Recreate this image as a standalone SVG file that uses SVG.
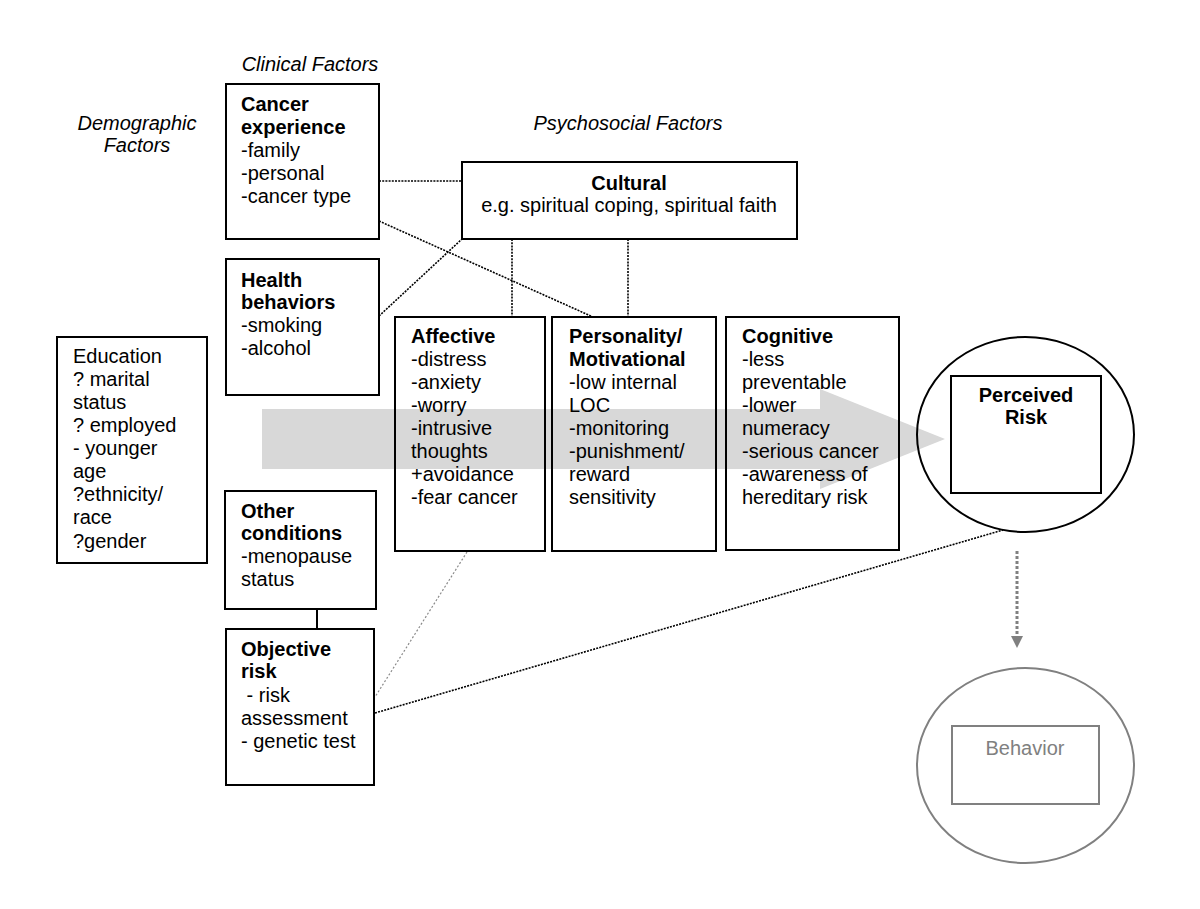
<svg xmlns="http://www.w3.org/2000/svg" width="1200" height="909" viewBox="0 0 1200 909">
<style>
text{font-family:"Liberation Sans",Arial,sans-serif;font-size:20px;fill:#000}
.b{font-weight:bold}
.i{font-style:italic}
.m{text-anchor:middle}
.box{fill:none;stroke:#000;stroke-width:2}
.dot{fill:none;stroke:#000;stroke-width:1.6;stroke-dasharray:2 1.2}
.gdot{fill:none;stroke:#8a8a8a;stroke-width:1.2;stroke-dasharray:2 2}
.gray{fill:none;stroke:#808080;stroke-width:2}
</style>
<rect width="1200" height="909" fill="#fff"/>
<g id="labels">
<text class="i m" x="310" y="71">Clinical Factors</text>
<text class="i m" x="137" y="130">Demographic</text>
<text class="i m" x="137" y="152">Factors</text>
<text class="i m" x="628" y="130">Psychosocial Factors</text>
</g>
<g id="flow-arrow">
<polygon points="262,409 820,409 820,389 945,439 820,489 820,469 262,469" fill="#d8d8d8"/>
</g>
<g id="connectors">
<line class="dot" x1="379" y1="181" x2="462" y2="181"/>
<line class="dot" x1="379" y1="221" x2="593" y2="317"/>
<line class="dot" x1="379" y1="316" x2="462" y2="239"/>
<line class="dot" x1="512" y1="239" x2="512" y2="317"/>
<line class="dot" x1="628" y1="239" x2="628" y2="317"/>
<line x1="317" y1="609" x2="317" y2="629" stroke="#000" stroke-width="2"/>
<line class="gdot" x1="467" y1="552" x2="375" y2="697"/>
<line class="dot" x1="375" y1="713" x2="1003" y2="530"/>
<line x1="1017" y1="551" x2="1017" y2="637" stroke="#808080" stroke-width="3" stroke-dasharray="3 2"/>
<polygon points="1011,636 1023,636 1017,648" fill="#808080"/>
</g>
<g id="cancer-experience">
<rect class="box" x="226" y="84" width="153" height="155"/>
<text class="b" x="241" y="111">Cancer</text>
<text class="b" x="241" y="134">experience</text>
<text x="241" y="157">-family</text>
<text x="241" y="180">-personal</text>
<text x="241" y="203">-cancer type</text>
</g>
<g id="health-behaviors">
<rect class="box" x="226" y="259" width="153" height="136"/>
<text class="b" x="241" y="287">Health</text>
<text class="b" x="241" y="309">behaviors</text>
<text x="241" y="332">-smoking</text>
<text x="241" y="355">-alcohol</text>
</g>
<g id="demographic">
<rect class="box" x="57" y="337" width="150" height="226"/>
<text x="73" y="363">Education</text>
<text x="73" y="386">? marital</text>
<text x="73" y="409">status</text>
<text x="73" y="432">? employed</text>
<text x="73" y="455">- younger</text>
<text x="73" y="478">age</text>
<text x="73" y="501">?ethnicity/</text>
<text x="73" y="524">race</text>
<text x="73" y="548">?gender</text>
</g>
<g id="other-conditions">
<rect class="box" x="225" y="491" width="151" height="118"/>
<text class="b" x="241" y="518">Other</text>
<text class="b" x="241" y="540">conditions</text>
<text x="241" y="563">-menopause</text>
<text x="241" y="586">status</text>
</g>
<g id="objective-risk">
<rect class="box" x="226" y="629" width="148" height="156"/>
<text class="b" x="241" y="656">Objective</text>
<text class="b" x="241" y="678">risk</text>
<text x="241" y="702" xml:space="preserve"> - risk</text>
<text x="241" y="725">assessment</text>
<text x="241" y="748">- genetic test</text>
</g>
<g id="cultural">
<rect class="box" x="462" y="162" width="335" height="77"/>
<text class="b m" x="629" y="190">Cultural</text>
<text class="m" x="629" y="212">e.g. spiritual coping, spiritual faith</text>
</g>
<g id="affective">
<rect class="box" x="395" y="317" width="150" height="234"/>
<text class="b" x="411" y="343">Affective</text>
<text x="411" y="366">-distress</text>
<text x="411" y="389">-anxiety</text>
<text x="411" y="412">-worry</text>
<text x="411" y="435">-intrusive</text>
<text x="411" y="458">thoughts</text>
<text x="411" y="481">+avoidance</text>
<text x="411" y="504">-fear cancer</text>
</g>
<g id="personality">
<rect class="box" x="552" y="317" width="164" height="234"/>
<text class="b" x="569" y="343">Personality/</text>
<text class="b" x="569" y="366">Motivational</text>
<text x="569" y="389">-low internal</text>
<text x="569" y="412">LOC</text>
<text x="569" y="435">-monitoring</text>
<text x="569" y="458">-punishment/</text>
<text x="569" y="481">reward</text>
<text x="569" y="504">sensitivity</text>
</g>
<g id="cognitive">
<rect class="box" x="726" y="317" width="173" height="233"/>
<text class="b" x="742" y="343">Cognitive</text>
<text x="742" y="366">-less</text>
<text x="742" y="389">preventable</text>
<text x="742" y="412">-lower</text>
<text x="742" y="435">numeracy</text>
<text x="742" y="458">-serious cancer</text>
<text x="742" y="481">-awareness of</text>
<text x="742" y="504">hereditary risk</text>
</g>
<g id="perceived-risk">
<ellipse cx="1025.5" cy="434.5" rx="108.5" ry="97.5" fill="none" stroke="#000" stroke-width="2"/>
<rect class="box" x="951" y="376" width="150" height="117"/>
<text class="b m" x="1026" y="402">Perceived</text>
<text class="b m" x="1026" y="424">Risk</text>
</g>
<g id="behavior">
<ellipse class="gray" cx="1025.5" cy="765.5" rx="108.5" ry="97.5"/>
<rect class="gray" x="952" y="726" width="147" height="78"/>
<text class="m" x="1025" y="755" style="fill:#808080">Behavior</text>
</g>
</svg>
